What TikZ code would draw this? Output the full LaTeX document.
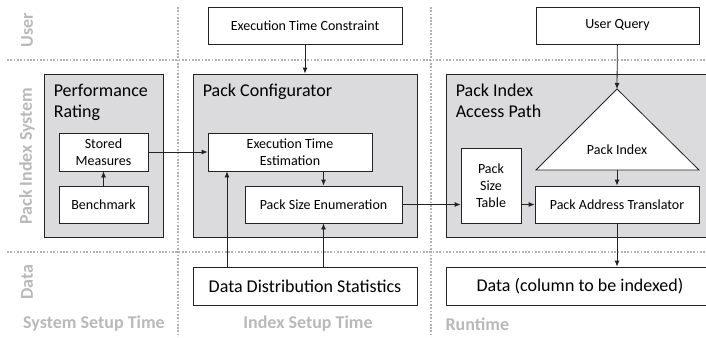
\documentclass[tikz,border=0pt]{standalone}
\usepackage{fontspec}
\setmainfont{Carlito}
\usetikzlibrary{arrows.meta}

\definecolor{LaneGrey}{RGB}{185,185,185}
\definecolor{DotGrey}{RGB}{178,178,178}
\definecolor{BoxGrey}{RGB}{219,219,221}
\definecolor{LineDark}{RGB}{35,35,35}

\tikzset{
  lane/.style={draw=DotGrey, line width=2pt, dash pattern=on 1.7pt off 1.6pt},
  lanelabel/.style={text=LaneGrey, font=\fontsize{18}{21}\selectfont\bfseries},
  group/.style={draw=LineDark, fill=BoxGrey, line width=0.8pt, inner sep=0pt},
  grouptitle/.style={anchor=north west, align=left, inner sep=0pt, font=\fontsize{18}{21}\selectfont},
  box/.style={draw=LineDark, fill=white, line width=0.8pt, align=center, inner sep=0pt, font=\fontsize{14}{17}\selectfont},
  bigbox/.style={box, font=\fontsize{18}{21}\selectfont},
  flow/.style={->, line width=0.8pt, draw=LineDark},
  >={Latex[length=6pt,width=5pt]}
}

\begin{document}
\begin{tikzpicture}[x=1pt,y=-1pt]
    \useasboundingbox (0,0) rectangle (706,337);

    % Lanes
    \draw[lane] (7,60) -- (706,60);
    \draw[lane] (7,252) -- (706,252);
    \draw[lane] (178,7) -- (178,337);
    \draw[lane] (431,7) -- (431,337);

    \node[lanelabel, rotate=90] (luser) at (27,30) {User};
    \node[lanelabel, rotate=90] (lsys) at (27,156) {Pack Index System};
    \node[lanelabel, rotate=90] (ldata) at (27,282) {Data};
    \node[lanelabel] (tsys) at (94,324) {System Setup Time};
    \node[lanelabel] (tidx) at (308,324) {Index Setup Time};
    \node[lanelabel, anchor=west] (trun) at (442,324) {Runtime};

    % Performance Rating
    \node[group, minimum width=119, minimum height=163] (perf) at (103.5,155.5) {};
    \node[grouptitle] (perft) at ([shift={(10,10)}]perf.north west) {Performance\\Rating};
    \node[box, minimum width=89, minimum height=38] (stored) at (103.5,152) {Stored\\Measures};
    \node[box, minimum width=89, minimum height=37] (bench) at (103.5,204.5) {Benchmark};

    % Pack Configurator
    \node[group, minimum width=224, minimum height=163] (cfg) at (305,155.5) {};
    \node[grouptitle] (cfgt) at ([shift={(10,10)}]cfg.north west) {Pack Configurator};
    \node[box, minimum width=164, minimum height=38] (exec) at (290,152) {Execution Time\\Estimation};
    \node[box, minimum width=157, minimum height=37] (pse) at (323.5,204.5) {Pack Size Enumeration};

    % Pack Index Access Path
    \node[group, minimum width=268, minimum height=163] (pap) at (580,155.5) {};
    \node[grouptitle] (papt) at ([shift={(10,10)}]pap.north west) {Pack Index\\Access Path};
    \coordinate (apex) at (617,89);
    \coordinate (base) at (617,170);
    \draw[draw=LineDark, fill=white, line width=0.8pt] (apex) -- (699,170) -- (536,170) -- cycle;
    \node[font=\fontsize{14}{17}\selectfont] (pidx) at (617,150) {Pack Index};
    \node[box, minimum width=60, minimum height=75] (pst) at (491,185.5) {Pack\\Size\\Table};
    \node[box, minimum width=164, minimum height=37] (pat) at (617,204.5) {Pack Address Translator};

    % User and data
    \node[box, minimum width=194, minimum height=37] (etc) at (305,25.5) {Execution Time Constraint};
    \node[box, minimum width=163, minimum height=37] (uq) at (617.5,25.5) {User Query};
    \node[bigbox, minimum width=224, minimum height=38] (dds) at (305,286) {Data Distribution Statistics};
    \node[bigbox, minimum width=268, minimum height=38] (data) at (580,286) {Data (column to be indexed)};

    % Connectors
    \draw[flow] (bench) -- (stored);
    \draw[flow] (stored) -- (exec);
    \draw[flow] (etc) -- (cfg.north);
    \draw[flow] (exec.south -| pse.north) -- (pse.north);
    \draw[flow] ([xshift=-78pt]dds.north) -- ([xshift=-63pt]exec.south);
    \draw[flow] (dds.north -| pse.south) -- (pse.south);
    \draw[flow] (pse.east) -- (pse.east -| pst.west);
    \draw[flow] (pst.east |- pat.west) -- (pat.west);
    \draw[flow] (uq) -- (apex);
    \draw[flow] (base) -- (pat.north);
    \draw[flow] (pat.south) -- (pat.south |- data.north);
\end{tikzpicture}
\end{document}
